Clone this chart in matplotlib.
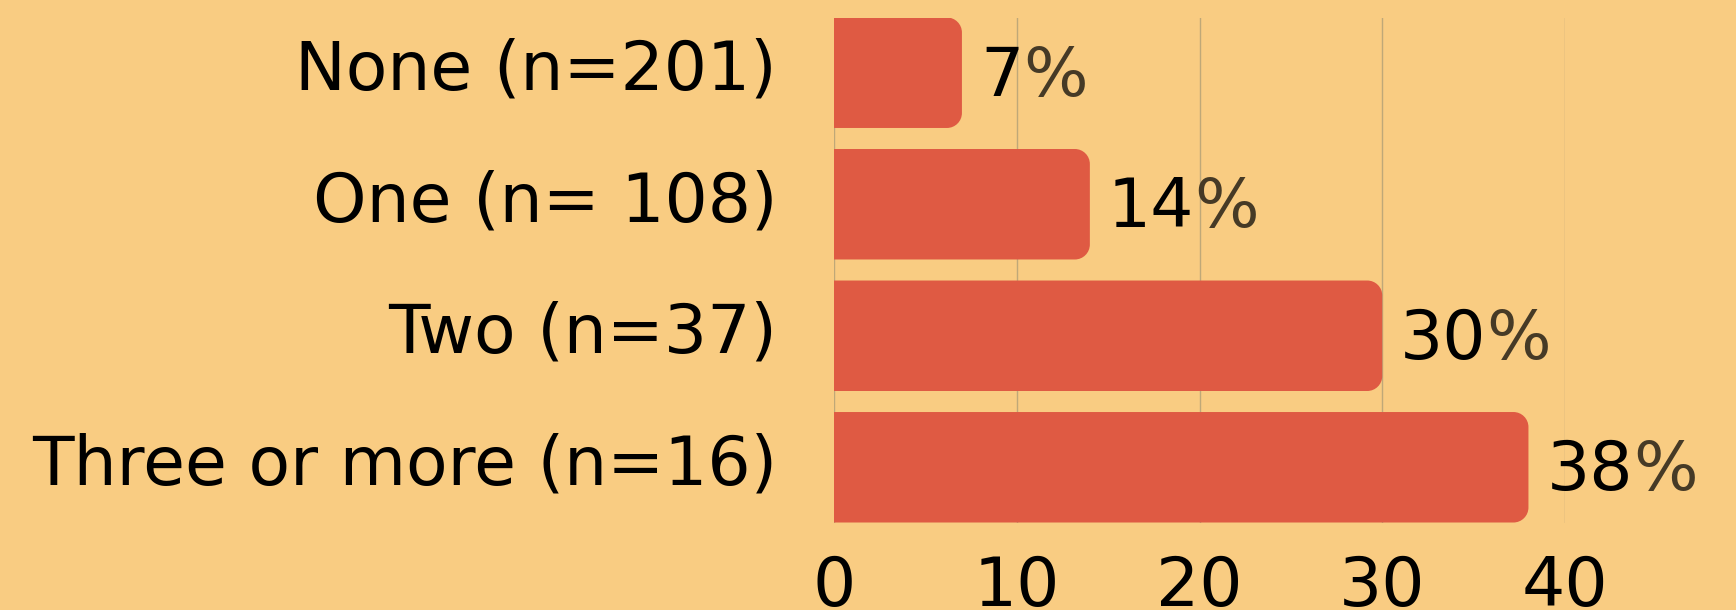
import matplotlib.pyplot as plt
from matplotlib.patches import PathPatch
from matplotlib.path import Path
from matplotlib.transforms import ScaledTranslation

# data
categories = ["None (n=201)", "One (n= 108)", "Two (n=37)", "Three or more (n=16)"]
values = [7, 14, 30, 38]
xticks = [0, 10, 20, 30, 40]

bg = '#f9cc82'
bar_c = '#df5a43'
pct_c = '#463a26'
grid_c = '#bfa878'

fig = plt.figure(figsize=(17.36, 6.10), dpi=100, facecolor=bg)
ax = fig.add_axes([834/1736, 1-522.5/610, 731/1736, 505/610])
ax.set_facecolor(bg)

ypos = list(range(len(categories)))
bars = ax.barh(ypos, values, height=0.84, color=bar_c, zorder=2)
ax.set_xlim(0, 40)
ax.set_ylim(len(categories)-1+0.42, -0.42)

# px per data unit, so the corner radius stays round
px_x = 731/40
px_y = 505/(len(categories)-1+0.84)
rx = 15/px_x
ry = 15/px_y
k = 0.5523

def right_rounded(x0, y0, w, h):
    x1, y1 = x0 + w, y0 + h
    verts = [(x0, y0), (x1-rx, y0),
             (x1-rx+k*rx, y0), (x1, y0+ry-k*ry), (x1, y0+ry),
             (x1, y1-ry),
             (x1, y1-ry+k*ry), (x1-rx+k*rx, y1), (x1-rx, y1),
             (x0, y1), (x0, y0)]
    codes = [Path.MOVETO, Path.LINETO,
             Path.CURVE4, Path.CURVE4, Path.CURVE4,
             Path.LINETO,
             Path.CURVE4, Path.CURVE4, Path.CURVE4,
             Path.LINETO, Path.CLOSEPOLY]
    return Path(verts, codes)

for b in bars:
    b.set_visible(False)
    ax.add_patch(PathPatch(right_rounded(b.get_x(), b.get_y(), b.get_width(), b.get_height()),
                           fc=bar_c, ec='none', zorder=2))

for i, v in enumerate(values):
    t = ax.annotate(str(v), xy=(v, i), xytext=(18, -4), textcoords='offset pixels',
                    va='center', ha='left', fontsize=49, color='black',
                    annotation_clip=False, zorder=4)
    ax.annotate('%', xy=(1, 0.5), xycoords=t, va='center', ha='left',
                fontsize=49, color=pct_c, annotation_clip=False, zorder=4)

ax.set_yticks(ypos)
ax.set_yticklabels(categories, fontsize=49)
ax.set_xticks(xticks)
ax.set_xticklabels([str(x) for x in xticks], fontsize=49)
ax.tick_params(axis='y', length=0, pad=41)
ax.tick_params(axis='x', length=0, pad=23)

# nudge category labels up a bit
shift = ScaledTranslation(0, 6.5/72, fig.dpi_scale_trans)
for lab in ax.get_yticklabels():
    lab.set_transform(lab.get_transform() + shift)

for x in xticks:
    ax.axvline(x, color=grid_c, lw=1, zorder=1)
for s in ax.spines.values():
    s.set_visible(False)

fig.savefig("out.png", dpi=100, facecolor=bg)
